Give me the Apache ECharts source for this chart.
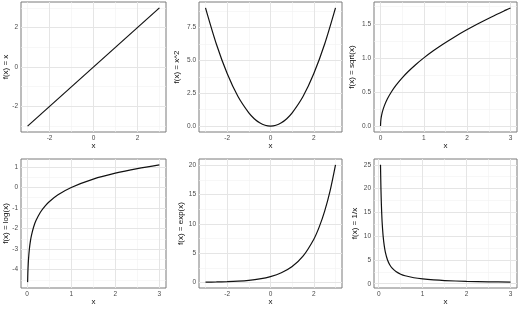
<!DOCTYPE html>
<html lang="en">
<head>
    <meta charset="UTF-8">
    <title>functions</title>
    <script src="https://cdn.jsdelivr.net/npm/echarts@6/dist/echarts.min.js"></script>
    <style>
        html, body { margin: 0; padding: 0; background: #fff; }
        #main { width: 520px; height: 309px; }
    </style>
</head>
<body>
<div id="main"></div>
<script type="text/javascript">
    // values
    const lineX = [-3, 3];
    const lineY = [-3, 3];

    const squareX = [-3, -2.5, -2, -1.5, -1, -0.75, -0.5, -0.25, 0, 0.25, 0.5, 0.75, 1, 1.5, 2, 2.5, 3];
    const squareY = [9, 6.25, 4, 2.25, 1, 0.5625, 0.25, 0.0625, 0, 0.0625, 0.25, 0.5625, 1, 2.25, 4, 6.25, 9];

    const sqrtX = [0, 0.01, 0.04, 0.09, 0.16, 0.25, 0.36, 0.49, 0.64, 0.81, 1, 1.21, 1.44, 1.69, 1.96, 2.25, 2.56, 2.89, 3];
    const sqrtY = [0, 0.1, 0.2, 0.3, 0.4, 0.5, 0.6, 0.7, 0.8, 0.9, 1, 1.1, 1.2, 1.3, 1.4, 1.5, 1.6, 1.7, 1.732];

    const logX = [0.01, 0.015, 0.02, 0.03, 0.05, 0.075, 0.1, 0.15, 0.2, 0.3, 0.4, 0.5, 0.7, 1, 1.5, 2, 2.5, 3];
    const logY = [-4.605, -4.2, -3.912, -3.507, -2.996, -2.59, -2.303, -1.897, -1.609, -1.204, -0.916, -0.693, -0.357, 0, 0.405, 0.693, 0.916, 1.099];

    const expX = [-3, -2.5, -2, -1.5, -1, -0.5, 0, 0.5, 1, 1.5, 2, 2.25, 2.5, 2.75, 3];
    const expY = [0.05, 0.082, 0.135, 0.223, 0.368, 0.607, 1, 1.649, 2.718, 4.482, 7.389, 9.488, 12.18, 15.64, 20.09];

    const invX = [0.04, 0.05, 0.06, 0.07, 0.08, 0.1, 0.125, 0.15, 0.2, 0.25, 0.3, 0.4, 0.5, 0.6, 0.8, 1, 1.25, 1.5, 2, 2.5, 3];
    const invY = [25, 20, 16.67, 14.29, 12.5, 10, 8, 6.667, 5, 4, 3.333, 2.5, 2, 1.667, 1.25, 1, 0.8, 0.667, 0.5, 0.4, 0.333];

    // tick labels (major) and minor grid breaks
    const symTicks = [-2, 0, 2];
    const symMinor = [-3, -1, 1, 3];
    const posTicks = [0, 1, 2, 3];
    const posMinor = [0.5, 1.5, 2.5];
    const squareTicks = [0, 2.5, 5, 7.5];
    const squareMinor = [1.25, 3.75, 6.25, 8.75];
    const sqrtTicks = [0, 0.5, 1, 1.5];
    const sqrtMinor = [0.25, 0.75, 1.25, 1.75];
    const logTicks = [-4, -3, -2, -1, 0, 1];
    const logMinor = [-4.5, -3.5, -2.5, -1.5, -0.5, 0.5];
    const expTicks = [0, 5, 10, 15, 20];
    const expMinor = [2.5, 7.5, 12.5, 17.5];
    const invTicks = [0, 5, 10, 15, 20, 25];
    const invMinor = [2.5, 7.5, 12.5, 17.5, 22.5];

    const titles = ['f(x) = x', 'f(x) = x^2', 'f(x) = sqrt(x)', 'f(x) = log(x)', 'f(x) = exp(x)', 'f(x) = 1/x'];

    const panels = [
        {x: lineX, y: lineY, xr: [-3.3, 3.3], yr: [-3.3, 3.3], xt: symTicks, xm: symMinor, yt: symTicks, ym: symMinor, dec: 0,
            box: {left: 21, top: 2, width: 145, height: 130}, gap: 11},
        {x: squareX, y: squareY, xr: [-3.3, 3.3], yr: [-0.45, 9.45], xt: symTicks, xm: symMinor, yt: squareTicks, ym: squareMinor, dec: 1,
            box: {left: 199, top: 2, width: 143, height: 130}, gap: 18},
        {x: sqrtX, y: sqrtY, xr: [-0.15, 3.15], yr: [-0.087, 1.819], xt: posTicks, xm: posMinor, yt: sqrtTicks, ym: sqrtMinor, dec: 1,
            box: {left: 374, top: 2, width: 143, height: 130}, gap: 18},
        {x: logX, y: logY, xr: [-0.14, 3.15], yr: [-4.89, 1.384], xt: posTicks, xm: posMinor, yt: logTicks, ym: logMinor, dec: 0,
            box: {left: 21, top: 159, width: 145, height: 129}, gap: 11},
        {x: expX, y: expY, xr: [-3.3, 3.3], yr: [-0.95, 21.09], xt: symTicks, xm: symMinor, yt: expTicks, ym: expMinor, dec: 0,
            box: {left: 199, top: 159, width: 143, height: 129}, gap: 14},
        {x: invX, y: invY, xr: [-0.108, 3.148], yr: [-0.9, 26.23], xt: posTicks, xm: posMinor, yt: invTicks, ym: invMinor, dec: 0,
            box: {left: 374, top: 159, width: 143, height: 129}, gap: 15}
    ];

    const font = 'Liberation Sans';

    function initChart(){
        let myChart = echarts.init(document.getElementById('main'), null, {renderer: 'canvas'});
        const grid = [], xAxis = [], yAxis = [], series = [];

        panels.forEach(function (p, i) {
            grid.push(Object.assign({
                show: true, borderColor: '#7a7a7a', borderWidth: 1,
                backgroundColor: 'transparent', containLabel: false, outerBoundsMode: 'none'
            }, p.box));

            xAxis.push({
                gridIndex: i, type: 'value', min: p.xr[0], max: p.xr[1],
                name: 'x', nameLocation: 'middle', nameGap: 10, nameMoveOverlap: false,
                nameTextStyle: {color: '#111', fontSize: 8, fontFamily: font},
                axisLine: {show: false},
                axisTick: {show: true, length: 2, customValues: p.xt, lineStyle: {color: '#444', width: 0.8}},
                axisLabel: {customValues: p.xt, margin: 3, color: '#4a4a4a', fontSize: 6.5, fontFamily: font,
                    formatter: function (v) { return String(v); }},
                splitLine: {show: false}
            });

            yAxis.push({
                gridIndex: i, type: 'value', min: p.yr[0], max: p.yr[1],
                name: titles[i], nameLocation: 'middle', nameGap: p.gap, nameMoveOverlap: false,
                nameTextStyle: {color: '#111', fontSize: 8, fontFamily: font},
                axisLine: {show: false},
                axisTick: {show: true, length: 2, customValues: p.yt, lineStyle: {color: '#444', width: 0.8}},
                axisLabel: {customValues: p.yt, margin: 3, color: '#4a4a4a', fontSize: 6.5, fontFamily: font,
                    formatter: function (v) { return v.toFixed(p.dec); }},
                splitLine: {show: false}
            });

            // grid lines, drawn on the panel scales
            const lines = [];
            p.xm.forEach(function (v) { lines.push({xAxis: v, lineStyle: {color: '#f2f2f2', width: 0.6}}); });
            p.ym.forEach(function (v) { lines.push({yAxis: v, lineStyle: {color: '#f2f2f2', width: 0.6}}); });
            p.xt.forEach(function (v) { lines.push({xAxis: v, lineStyle: {color: '#e5e5e5', width: 1}}); });
            p.yt.forEach(function (v) { lines.push({yAxis: v, lineStyle: {color: '#e5e5e5', width: 1}}); });
            series.push({
                type: 'line', xAxisIndex: i, yAxisIndex: i, data: [], z: 1, silent: true,
                markLine: {silent: true, symbol: ['none', 'none'], label: {show: false}, animation: false,
                    lineStyle: {type: 'solid'}, data: lines}
            });

            series.push({
                type: 'line', xAxisIndex: i, yAxisIndex: i, z: 5,
                data: p.x.map(function (v, k) { return [v, p.y[k]]; }),
                smooth: 0.3, showSymbol: false, symbol: 'none',
                lineStyle: {color: '#111', width: 1.2}
            });
        });

        const option = {
            animation: false,
            backgroundColor: '#fff',
            grid: grid, xAxis: xAxis, yAxis: yAxis, series: series
        };
        myChart.setOption(option);
    }
    initChart();
</script>
</body>
</html>
